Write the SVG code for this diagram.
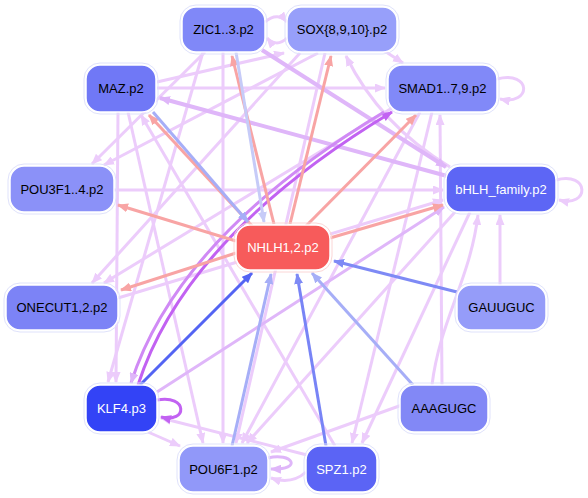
<svg xmlns="http://www.w3.org/2000/svg" width="588" height="498" viewBox="0 0 588 498">
<style>
.e{fill:none;stroke-width:3}
.lp{stroke:#ecccfb;marker-end:url(#alp)}
.mp{stroke:#dfb6f9;marker-end:url(#amp)}
.sp{stroke:#c262f2;marker-end:url(#asp)}
.pk{stroke:#f8a4a4;marker-end:url(#apk)}
.b1{stroke:#7e8af5;marker-end:url(#ab1)}
.b2{stroke:#a6aef7;marker-end:url(#ab2)}
.b3{stroke:#5464f3;marker-end:url(#ab3)}
.b4{stroke:#c6cbf8;marker-end:url(#ab4)}
.n rect.o{fill:none;stroke:#dfe2fb;stroke-width:1}
.n rect.i{stroke:#ffffff;stroke-width:1.5}
.n text{font-family:"Liberation Sans",Arial,sans-serif;font-size:13px;text-anchor:middle;dominant-baseline:central;fill:#000}
.n text.w{fill:#fff}
</style>
<defs>
<marker id="alp" markerUnits="userSpaceOnUse" markerWidth="11" markerHeight="9" refX="10" refY="4.5" orient="auto"><path d="M0,0 L11,4.5 L0,9 z" fill="#ecccfb"/></marker>
<marker id="amp" markerUnits="userSpaceOnUse" markerWidth="11" markerHeight="9" refX="10" refY="4.5" orient="auto"><path d="M0,0 L11,4.5 L0,9 z" fill="#dfb6f9"/></marker>
<marker id="asp" markerUnits="userSpaceOnUse" markerWidth="11" markerHeight="9" refX="10" refY="4.5" orient="auto"><path d="M0,0 L11,4.5 L0,9 z" fill="#c262f2"/></marker>
<marker id="apk" markerUnits="userSpaceOnUse" markerWidth="11" markerHeight="9" refX="10" refY="4.5" orient="auto"><path d="M0,0 L11,4.5 L0,9 z" fill="#f8a4a4"/></marker>
<marker id="ab1" markerUnits="userSpaceOnUse" markerWidth="11" markerHeight="9" refX="10" refY="4.5" orient="auto"><path d="M0,0 L11,4.5 L0,9 z" fill="#7e8af5"/></marker>
<marker id="ab2" markerUnits="userSpaceOnUse" markerWidth="11" markerHeight="9" refX="10" refY="4.5" orient="auto"><path d="M0,0 L11,4.5 L0,9 z" fill="#a6aef7"/></marker>
<marker id="ab3" markerUnits="userSpaceOnUse" markerWidth="11" markerHeight="9" refX="10" refY="4.5" orient="auto"><path d="M0,0 L11,4.5 L0,9 z" fill="#5464f3"/></marker>
<marker id="ab4" markerUnits="userSpaceOnUse" markerWidth="11" markerHeight="9" refX="10" refY="4.5" orient="auto"><path d="M0,0 L11,4.5 L0,9 z" fill="#c6cbf8"/></marker>
</defs>
<rect width="588" height="498" fill="#ffffff"/>
<g id="edges">
<!-- light purple -->
<path class="e lp" d="M157,82 L284,53"/>
<path class="e lp" d="M157,88 L385,88"/>
<path class="e lp" d="M383,50 L403,63"/>
<path class="e lp" d="M318,53 L104,165"/>
<path class="e lp" d="M205,52 L92,164"/>
<path class="e lp" d="M223,52 L223,443"/>
<path class="e lp" d="M203,52 L108,382"/>
<path class="e lp" d="M128,112 L203,443"/>
<path class="e lp" d="M118,112 L116,382"/>
<path class="e lp" d="M335,446 L141,115"/>
<path class="e lp" d="M114,190 L443,190"/>
<path class="e lp" d="M118,298 L443,200"/>
<path class="e lp" d="M300,53 L92,283"/>
<path class="e lp" d="M392,108 L104,283"/>
<path class="e lp" d="M420,112 L242,443"/>
<path class="e lp" d="M432,112 L352,443"/>
<path class="e lp" d="M325,53 L236,443"/>
<path class="e lp" d="M442,385 L440,115"/>
<path class="e lp" d="M500,285 L500,215"/>
<path class="e lp" d="M148,432 L180,446"/>
<path class="e lp" d="M307,455 L161,418"/>
<path class="e lp" d="M402,405 L271,452"/>
<path class="e lp" d="M455,212 L247,443"/>
<path class="e lp" d="M470,212 L362,443"/>
<path class="e lp" d="M432,385 C440,320 470,280 478,215"/>
<path class="e lp" d="M450,167 Q380,125 346,56"/>
<path class="e lp" d="M497,79 C532,70 532,106 500,99"/>
<path class="e lp" d="M556,180 C590,171 590,208 559,200"/>
<path class="e lp" d="M265,22 C274,14 282,16 287,22"/>
<path class="e lp" d="M287,38 C280,45 272,44 267,38"/>
<path class="e mp" d="M268,458 C292,452 304,470 271,469"/>
<path class="e lp" d="M306,472 C295,482 283,482 271,478"/>
<!-- medium purple -->
<path class="e mp" d="M262,50 L446,167" style="stroke-width:4"/>
<path class="e mp" d="M447,176 L160,98" style="stroke-width:4"/>
<path class="e mp" d="M157,392 L444,207"/>
<!-- strong purple -->
<path class="e sp" d="M138,385 Q186,236 392,112"/>
<path class="e sp" d="M384,112 Q178,236 131,383" style="stroke:#d08af5;marker-end:url(#amp)"/>
<path class="e sp" d="M157,400 C188,394 188,424 161,417"/>
<!-- pink (from NHLH) -->
<path class="e pk" d="M274,224 L232,56"/>
<path class="e pk" d="M290,224 L331,56"/>
<path class="e pk" d="M306,226 L416,115"/>
<path class="e pk" d="M254,228 L149,115"/>
<path class="e pk" d="M236,241 L118,205"/>
<path class="e pk" d="M236,253 L121,290"/>
<path class="e pk" d="M330,238 L443,205"/>
<!-- blue (to NHLH) -->
<path class="e b1" d="M457,292 L334,261"/>
<path class="e b2" d="M413,385 L312,273"/>
<path class="e b1" d="M326,446 L297,274" style="stroke:#7884f6"/>
<path class="e b2" d="M232,446 L271,274"/>
<path class="e b3" d="M140,385 L252,273"/>
<path class="e b4" d="M236,52 L264,222"/>
<path class="e b2" d="M153,112 L248,222"/>
</g>
<g id="ZIC1_3" class="n"><rect class="o" x="180" y="5" width="87" height="49" rx="16"/><rect class="i" x="182" y="7" width="83" height="45" rx="14" fill="#8088f8"/><text x="223.5" y="29.5">ZIC1..3.p2</text></g>
<g id="SOX" class="n"><rect class="o" x="285" y="5" width="114" height="49" rx="16"/><rect class="i" x="287" y="7" width="110" height="45" rx="14" fill="#979ffa"/><text x="342" y="29.5">SOX{8,9,10}.p2</text></g>
<g id="MAZ" class="n"><rect class="o" x="84" y="63" width="74" height="51" rx="16"/><rect class="i" x="86" y="65" width="70" height="47" rx="14" fill="#7078f6"/><text x="121" y="88.5">MAZ.p2</text></g>
<g id="SMAD" class="n"><rect class="o" x="386" y="63" width="113" height="51" rx="16"/><rect class="i" x="388" y="65" width="109" height="47" rx="14" fill="#8189f8"/><text x="442.5" y="88.5">SMAD1..7,9.p2</text></g>
<g id="POU3F1_4" class="n"><rect class="o" x="8" y="164" width="108" height="50" rx="16"/><rect class="i" x="10" y="166" width="104" height="46" rx="14" fill="#8b91f8"/><text x="62" y="189">POU3F1..4.p2</text></g>
<g id="bHLH" class="n"><rect class="o" x="444" y="164" width="114" height="50" rx="16"/><rect class="i" x="446" y="166" width="110" height="46" rx="14" fill="#5d66f5"/><text class="w" x="501" y="189">bHLH_family.p2</text></g>
<g id="NHLH1_2" class="n"><rect class="o" x="234" y="223" width="98" height="49" rx="16" style="stroke:#fbd6d6"/><rect class="i" x="236" y="225" width="94" height="45" rx="14" fill="#f75b5b"/><text class="w" x="283" y="247.5">NHLH1,2.p2</text></g>
<g id="ONECUT1_2" class="n"><rect class="o" x="4" y="283" width="116" height="49" rx="16"/><rect class="i" x="6" y="285" width="112" height="45" rx="14" fill="#7c83f6"/><text x="62" y="307.5">ONECUT1,2.p2</text></g>
<g id="GAUUGUC" class="n"><rect class="o" x="455" y="283" width="93" height="49" rx="16"/><rect class="i" x="457" y="285" width="89" height="45" rx="14" fill="#959cf9"/><text x="501.5" y="307.5">GAUUGUC</text></g>
<g id="KLF4" class="n"><rect class="o" x="84" y="383" width="75" height="51" rx="16"/><rect class="i" x="86" y="385" width="71" height="47" rx="14" fill="#3343f6"/><text class="w" x="121.5" y="408.5">KLF4.p3</text></g>
<g id="AAAGUGC" class="n"><rect class="o" x="398" y="383" width="92" height="51" rx="16"/><rect class="i" x="400" y="385" width="88" height="47" rx="14" fill="#8288f6"/><text x="444" y="408.5">AAAGUGC</text></g>
<g id="POU6F1" class="n"><rect class="o" x="177" y="444" width="93" height="50" rx="16"/><rect class="i" x="179" y="446" width="89" height="46" rx="14" fill="#9198f9"/><text x="223.5" y="469">POU6F1.p2</text></g>
<g id="SPZ1" class="n"><rect class="o" x="304" y="444" width="75" height="50" rx="16"/><rect class="i" x="306" y="446" width="71" height="46" rx="14" fill="#5b64f5"/><text class="w" x="341.5" y="469">SPZ1.p2</text></g>
</svg>
